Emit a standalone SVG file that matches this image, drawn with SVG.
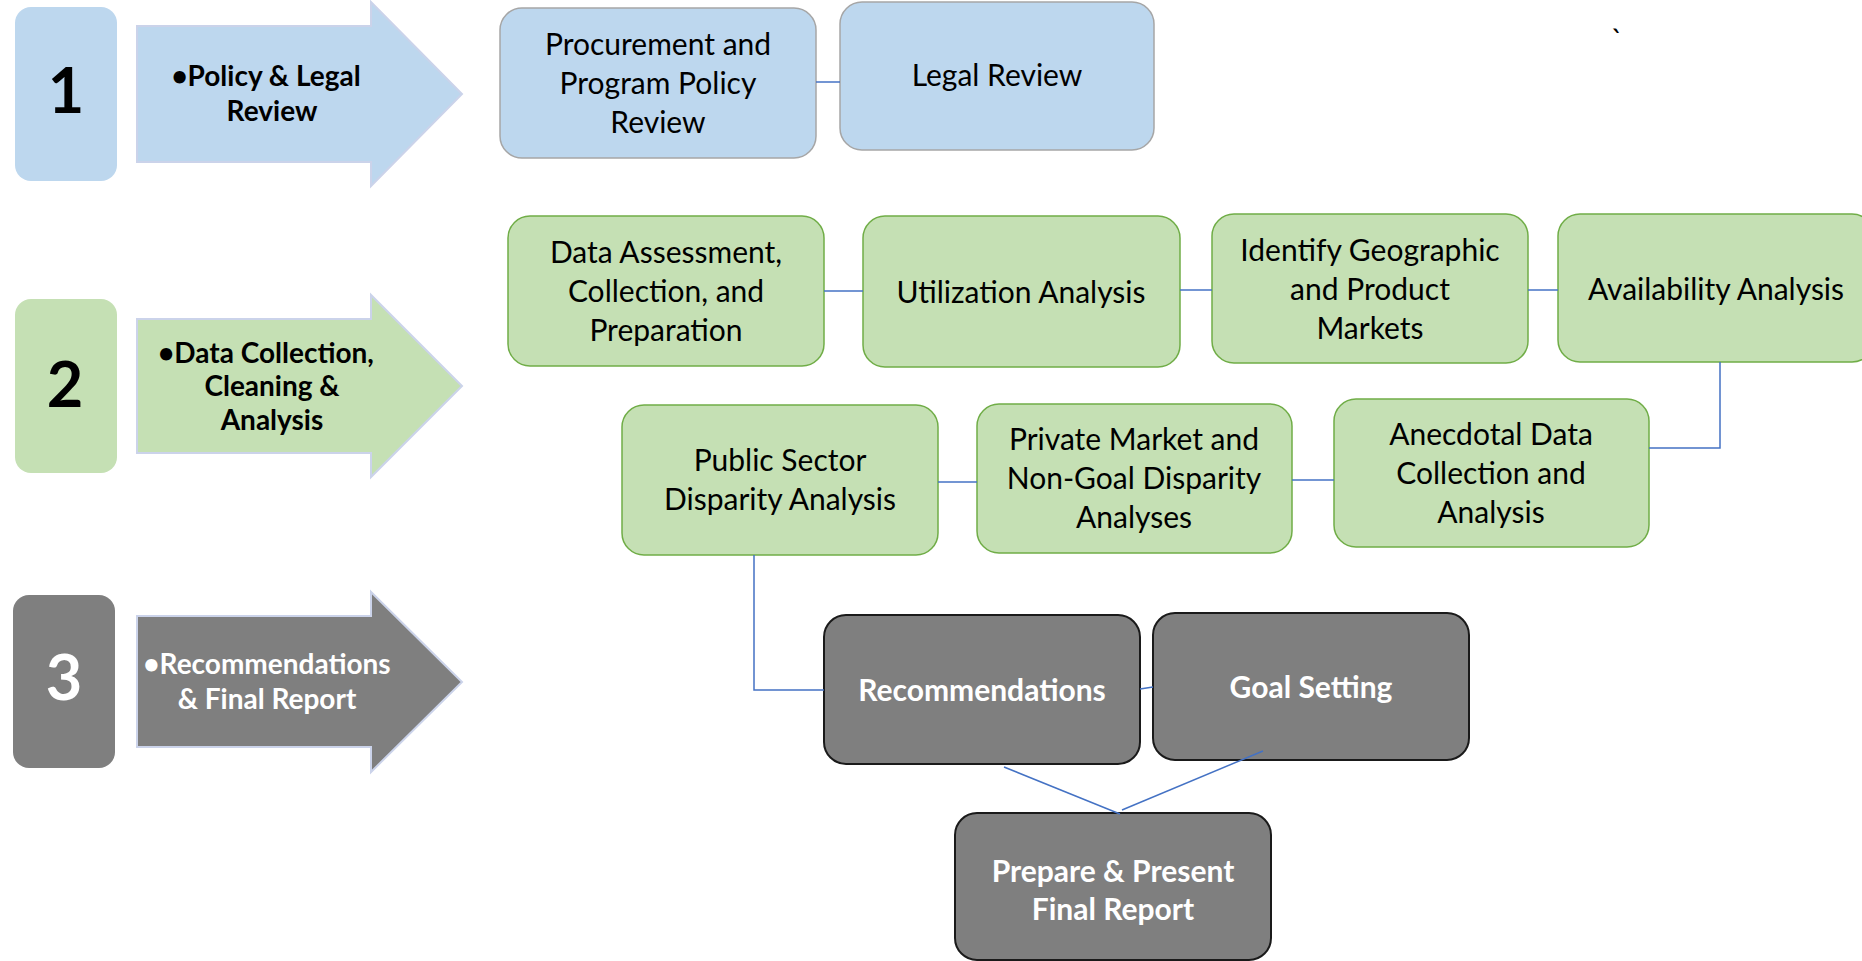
<svg xmlns="http://www.w3.org/2000/svg" width="1862" height="961" viewBox="0 0 1862 961">
<style>
.bg{fill:#ffffff}
.numbox{stroke:none}
.blue{fill:#BDD7EE}
.green{fill:#C5E0B4}
.gray{fill:#7F7F7F}
.arrow{stroke:#CBD3EA;stroke-width:2}
.nblue{fill:#BDD7EE;stroke:#A6A6A6;stroke-width:1.5}
.ngreen{fill:#C5E0B4;stroke:#70AD47;stroke-width:1.5}
.ngray{fill:#7F7F7F;stroke:#1A1A1A;stroke-width:2}
.num{font-family:Lato,"Liberation Sans",sans-serif;font-weight:bold;font-size:63px;text-anchor:middle}
.atxt{font-family:Lato,"Liberation Sans",sans-serif;font-weight:bold;font-size:28px;text-anchor:middle}
.ntxt{font-family:Lato,"Liberation Sans",sans-serif;font-size:30px;text-anchor:middle;fill:#000}
.wtxt{font-family:Lato,"Liberation Sans",sans-serif;font-weight:bold;font-size:30px;text-anchor:middle;fill:#fff}
.conn{fill:none;stroke:#4472C4;stroke-width:1.5}
</style>
<rect class="bg" x="0" y="0" width="1862" height="961"/>

<g id="step1">
<rect class="numbox blue" x="15" y="7" width="102" height="174" rx="16"/>
<text class="num" x="66" y="113" fill="#000">1</text>
</g>
<g id="arrow1">
<polygon class="arrow blue" points="137,26 371,26 371,2 462,94 371,186 371,162 137,162"/>
<text class="atxt" x="266" y="86">•Policy &amp; Legal</text>
<text class="atxt" x="272" y="121">Review</text>
</g>

<g id="step2">
<rect class="numbox green" x="15" y="299" width="102" height="174" rx="16"/>
<text class="num" x="65" y="407" fill="#000">2</text>
</g>
<g id="arrow2">
<polygon class="arrow green" points="137,319 371,319 371,295 462,386 371,477 371,453 137,453"/>
<text class="atxt" x="266" y="363">•Data Collection,</text>
<text class="atxt" x="272" y="396">Cleaning &amp;</text>
<text class="atxt" x="272" y="430">Analysis</text>
</g>

<g id="step3">
<rect class="numbox gray" x="13" y="595" width="102" height="173" rx="16"/>
<text class="num" x="64" y="700" fill="#fff">3</text>
</g>
<g id="arrow3">
<polygon class="arrow gray" points="137,616 371,616 371,592 462,682 371,772 371,747 137,747"/>
<text class="atxt" x="267" y="674" fill="#fff">•Recommendations</text>
<text class="atxt" x="267" y="709" fill="#fff">&amp; Final Report</text>
</g>

<g id="procurement">
<rect class="nblue" x="500" y="8" width="316" height="150" rx="22"/>
<text class="ntxt" x="658" y="55">Procurement and</text>
<text class="ntxt" x="658" y="94">Program Policy</text>
<text class="ntxt" x="658" y="133">Review</text>
</g>
<g id="legal">
<rect class="nblue" x="840" y="2" width="314" height="148" rx="22"/>
<text class="ntxt" x="997" y="86">Legal Review</text>
</g>

<g id="data-assessment">
<rect class="ngreen" x="508" y="216" width="316" height="150" rx="22"/>
<text class="ntxt" x="666" y="263">Data Assessment,</text>
<text class="ntxt" x="666" y="302">Collection, and</text>
<text class="ntxt" x="666" y="341">Preparation</text>
</g>
<g id="utilization">
<rect class="ngreen" x="863" y="216" width="317" height="151" rx="22"/>
<text class="ntxt" x="1021" y="303">Utilization Analysis</text>
</g>
<g id="geographic">
<rect class="ngreen" x="1212" y="214" width="316" height="149" rx="22"/>
<text class="ntxt" x="1370" y="261">Identify Geographic</text>
<text class="ntxt" x="1370" y="300">and Product</text>
<text class="ntxt" x="1370" y="339">Markets</text>
</g>
<g id="availability">
<rect class="ngreen" x="1558" y="214" width="316" height="148" rx="22"/>
<text class="ntxt" x="1716" y="300">Availability Analysis</text>
</g>

<g id="public-sector">
<rect class="ngreen" x="622" y="405" width="316" height="150" rx="22"/>
<text class="ntxt" x="780" y="471">Public Sector</text>
<text class="ntxt" x="780" y="510">Disparity Analysis</text>
</g>
<g id="private-market">
<rect class="ngreen" x="977" y="404" width="315" height="149" rx="22"/>
<text class="ntxt" x="1134" y="450">Private Market and</text>
<text class="ntxt" x="1134" y="489">Non-Goal Disparity</text>
<text class="ntxt" x="1134" y="528">Analyses</text>
</g>
<g id="anecdotal">
<rect class="ngreen" x="1334" y="399" width="315" height="148" rx="22"/>
<text class="ntxt" x="1491" y="445">Anecdotal Data</text>
<text class="ntxt" x="1491" y="484">Collection and</text>
<text class="ntxt" x="1491" y="523">Analysis</text>
</g>

<g id="recommendations">
<rect class="ngray" x="824" y="615" width="316" height="149" rx="22"/>
<text class="wtxt" x="982" y="701">Recommendations</text>
</g>
<g id="goal-setting">
<rect class="ngray" x="1153" y="613" width="316" height="147" rx="22"/>
<text class="wtxt" x="1311" y="698">Goal Setting</text>
</g>
<g id="final-report">
<rect class="ngray" x="955" y="813" width="316" height="147" rx="22"/>
<text class="wtxt" x="1113" y="882">Prepare &amp; Present</text>
<text class="wtxt" x="1113" y="920">Final Report</text>
</g>

<g id="connectors">
<line class="conn" x1="816" y1="82" x2="840" y2="82"/>
<line class="conn" x1="824" y1="291" x2="863" y2="291"/>
<line class="conn" x1="1180" y1="290" x2="1212" y2="290"/>
<line class="conn" x1="1528" y1="290" x2="1558" y2="290"/>
<polyline class="conn" points="1720,362 1720,448 1649,448"/>
<line class="conn" x1="938" y1="482" x2="977" y2="482"/>
<line class="conn" x1="1292" y1="480" x2="1334" y2="480"/>
<polyline class="conn" points="754,555 754,690 824,690"/>
<line class="conn" x1="1140" y1="689" x2="1153" y2="687"/>
<line class="conn" x1="1004" y1="767" x2="1120" y2="814"/>
<line class="conn" x1="1263" y1="751" x2="1122" y2="810"/>
</g>

<text class="ntxt" x="1617" y="51">`</text>
</svg>
